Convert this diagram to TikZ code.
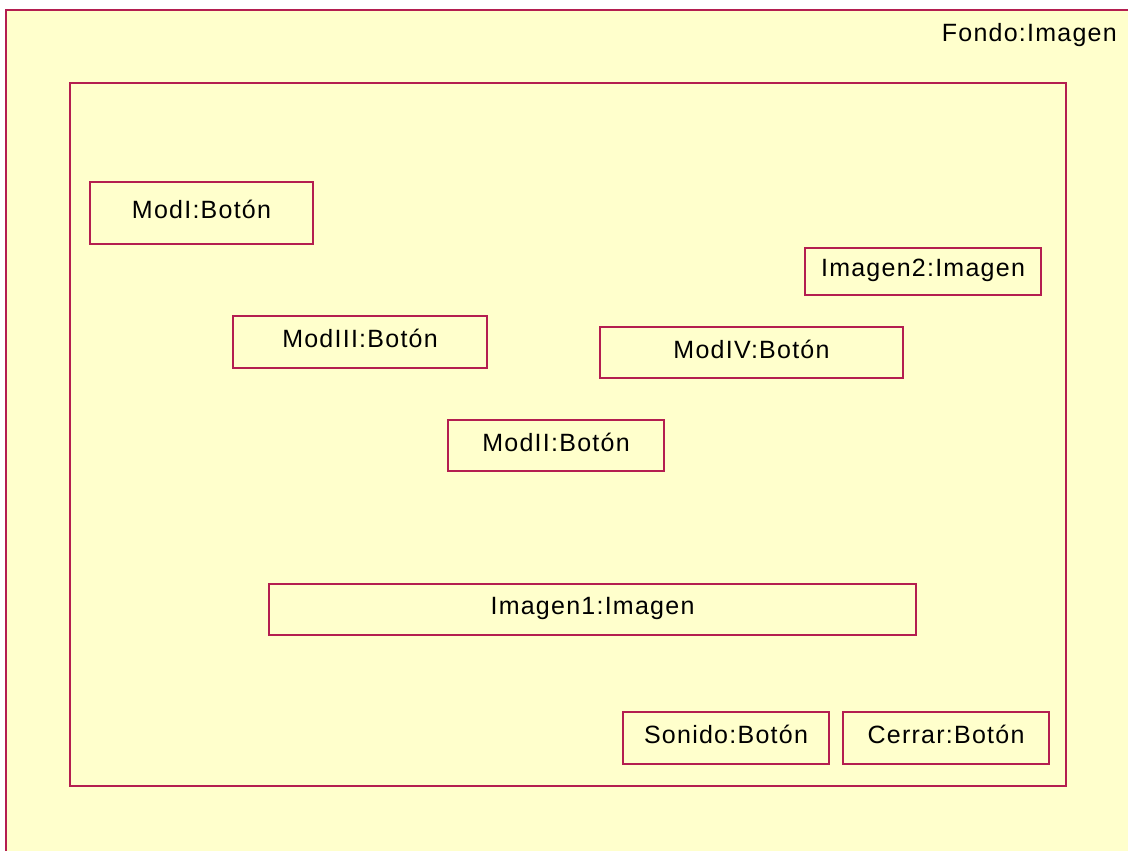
\documentclass[tikz,border=0pt]{standalone}
\usepackage{fontspec}
\setmainfont{Liberation Sans}[LetterSpace=5]
\usepackage{tikz}
\definecolor{borde}{RGB}{180,30,80}
\definecolor{relleno}{RGB}{255,255,204}
\begin{document}
\begin{tikzpicture}[
  x=1pt, y=-1pt,
  marco/.style={draw=borde, line width=1.1pt, inner sep=0pt},
  boton/.style={marco, fill=relleno, text depth=7pt, font=\fontsize{25}{29}\selectfont},
  rotulo/.style={font=\fontsize{25}{29}\selectfont, inner sep=0pt}
]
\useasboundingbox (0,0) rectangle (1128,851);
\fill[white] (0,0) rectangle (1128,851);
% fondo y marco
\draw[marco, fill=relleno] (6,10) rectangle (1140,870);
\node[rotulo, anchor=east] (fondo) at (1117,35) {Fondo:Imagen};
\node[marco, minimum width=996pt, minimum height=703pt] (ventana) at (568,434.5) {};
% botones e imagenes
\node[boton, minimum width=223pt, minimum height=62pt] (modI) at (201.5,213) {ModI:Botón};
\node[boton, minimum width=236pt, minimum height=47pt] (imagenII) at (923,271.5) {Imagen2:Imagen};
\node[boton, minimum width=254pt, minimum height=52pt] (modIII) at (360,342) {ModIII:Botón};
\node[boton, minimum width=303pt, minimum height=51pt] (modIV) at (751.5,352.5) {ModIV:Botón};
\node[boton, minimum width=216pt, minimum height=51pt] (modII) at (556,445.5) {ModII:Botón};
\node[boton, minimum width=647pt, minimum height=51pt] (imagenI) at (592.5,609.5) {Imagen1:Imagen};
\node[boton, minimum width=206pt, minimum height=52pt] (sonido) at (726,738) {Sonido:Botón};
\node[boton, minimum width=206pt, minimum height=52pt] (cerrar) at (946,738) {Cerrar:Botón};
\end{tikzpicture}
\end{document}
